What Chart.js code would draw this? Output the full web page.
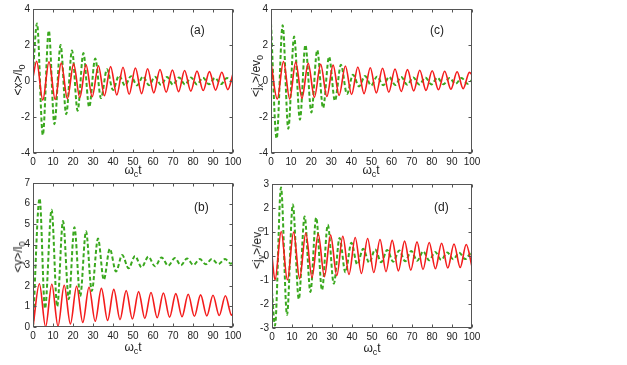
<!DOCTYPE html>
<html lang="en">
<head>
  <meta charset="UTF-8">
  <title>Document</title>
  <style>
    body { margin: 0; background: #fff; }
    .wrap { position: relative; width: 627px; height: 365px; overflow: hidden; font-family: "Liberation Sans", Arial, sans-serif; color: #222; }
    canvas { position: absolute; }
    .xt, .yt, .tag { position: absolute; white-space: nowrap; font-size: 12px; line-height: 12px; }
    .xt { transform: translateX(-50%); }
    .yt { transform: translate(-50%, -50%) rotate(-90deg); }
    .tag { font-size: 12px; }
    sub { font-size: 9px; vertical-align: -3px; line-height: 0; }
  </style>
</head>
<body>
  <div class="wrap">
    <canvas id="chartA" width="250" height="178" style="left:0px;top:0px"></canvas>
    <canvas id="chartC" width="250" height="178" style="left:238px;top:0px"></canvas>
    <canvas id="chartB" width="250" height="178" style="left:0px;top:174px"></canvas>
    <canvas id="chartD" width="250" height="178" style="left:239px;top:175px"></canvas>

    <div class="yt" style="left:18px;top:80px">&lt;x&gt;/l<sub>0</sub></div>
    <div class="yt" style="left:256px;top:76px">&lt;j<sub>x</sub>&gt;/ev<sub>0</sub></div>
    <div class="yt" style="left:18px;top:257px">&lt;y&gt;/l<sub>0</sub></div>
    <div class="yt" style="left:257px;top:248px">&lt;j<sub>y</sub>&gt;/ev<sub>0</sub></div>

    <div class="xt" style="left:133px;top:164px">ω<sub>c</sub>t</div>
    <div class="xt" style="left:371px;top:164px">ω<sub>c</sub>t</div>
    <div class="xt" style="left:133px;top:341px">ω<sub>c</sub>t</div>
    <div class="xt" style="left:372px;top:342px">ω<sub>c</sub>t</div>

    <div class="tag" style="left:190px;top:24px">(a)</div>
    <div class="tag" style="left:430px;top:24px">(c)</div>
    <div class="tag" style="left:194px;top:201px">(b)</div>
    <div class="tag" style="left:434px;top:201px">(d)</div>
  </div>

  <script src="https://cdn.jsdelivr.net/npm/chart.js"></script>
  <script>
    // values: times of the turning points and the values there

    // (a) <x>/l0
    const aRedT = [0, 1.8, 4.9, 8.0, 11.1, 14.1, 17.2, 20.3, 23.4, 26.5, 29.6, 32.7, 35.7, 38.8, 41.9, 45.0, 48.1, 51.2, 54.3, 57.3, 60.4, 63.5, 66.6, 69.7, 72.8, 75.8, 78.9, 82.0, 85.1, 88.2, 91.3, 94.4, 97.4, 100]
    const aRedY = [0.2, 1.1, -1.06, 1.07, -1.03, 1.0, -0.98, 0.95, -0.92, 0.9, -0.87, 0.85, -0.82, 0.8, -0.78, 0.76, -0.74, 0.72, -0.7, 0.68, -0.66, 0.64, -0.62, 0.61, -0.59, 0.58, -0.56, 0.55, -0.53, 0.52, -0.51, 0.49, -0.48, 0.4]
    const aGreenT = [0, 2.0, 4.9, 7.9, 10.7, 13.8, 16.6, 19.5, 22.3, 25.2, 28.1, 31.1, 34.0, 37.0, 40.0, 43.0, 46.0, 49.0, 52.0, 55.0, 58.0, 61.0, 64.0, 67.0, 70.0, 73.0, 76.0, 79.0, 82.0, 85.0, 88.0, 91.0, 94.0, 97.0, 100]
    const aGreenY = [0.5, 3.2, -3.0, 2.8, -2.4, 2.0, -1.85, 1.7, -1.65, 1.55, -1.45, 1.25, -0.95, 0.65, -0.5, 0.3, -0.25, 0.27, -0.24, 0.25, -0.23, 0.23, -0.22, 0.22, -0.21, 0.2, -0.2, 0.2, -0.19, 0.18, -0.18, 0.17, -0.17, 0.16, -0.05]

    // (c) <jx>/ev0
    const cRedT = [0, 3.1, 6.2, 9.3, 12.3, 15.4, 18.5, 21.6, 24.7, 27.8, 30.9, 33.9, 37.0, 40.1, 43.2, 46.3, 49.4, 52.4, 55.5, 58.6, 61.7, 64.8, 67.9, 71.0, 74.0, 77.1, 80.2, 83.3, 86.4, 89.5, 92.6, 95.6, 98.7, 100]
    const cRedY = [1.0, -1.0, 1.08, -1.0, 1.05, -0.96, 0.98, -0.9, 0.93, -0.86, 0.88, -0.8, 0.83, -0.75, 0.78, -0.7, 0.74, -0.66, 0.71, -0.62, 0.67, -0.58, 0.63, -0.55, 0.6, -0.52, 0.57, -0.49, 0.54, -0.46, 0.51, -0.43, 0.48, 0.35]
    const cGreenT = [0, 2.8, 5.8, 8.6, 11.5, 14.4, 17.1, 20.1, 23.0, 25.9, 28.9, 31.8, 34.8, 37.8, 40.8, 43.8, 46.8, 49.8, 52.8, 55.8, 58.8, 61.8, 64.8, 67.8, 70.8, 73.8, 76.8, 79.8, 82.8, 85.8, 88.8, 91.8, 94.8, 97.8, 100]
    const cGreenY = [3.2, -3.2, 3.1, -2.65, 2.47, -2.15, 2.0, -1.75, 1.72, -1.5, 1.35, -1.1, 0.9, -0.72, 0.35, -0.3, 0.28, -0.25, 0.25, -0.24, 0.23, -0.22, 0.22, -0.21, 0.2, -0.2, 0.19, -0.19, 0.18, -0.18, 0.17, -0.16, 0.16, -0.15, 0.05]

    // (b) <y>/l0
    const bRedT = [0, 3.2, 6.3, 9.4, 12.5, 15.6, 18.7, 21.8, 24.9, 28.0, 31.1, 34.2, 37.3, 40.4, 43.5, 46.6, 49.7, 52.8, 55.9, 59.0, 62.1, 65.2, 68.3, 71.4, 74.5, 77.6, 80.7, 83.8, 86.9, 90.0, 93.1, 96.2, 99.3, 100]
    const bRedY = [0, 2.1, 0.0, 2.08, 0.04, 2.03, 0.15, 1.98, 0.22, 1.93, 0.28, 1.88, 0.32, 1.83, 0.36, 1.77, 0.39, 1.72, 0.42, 1.68, 0.45, 1.65, 0.48, 1.62, 0.5, 1.59, 0.52, 1.56, 0.54, 1.54, 0.56, 1.52, 0.57, 0.65]
    const bGreenT = [0, 3.3, 6.0, 9.3, 12.1, 15.0, 17.9, 20.7, 23.6, 26.5, 29.4, 32.5, 35.4, 38.4, 41.5, 44.6, 47.8, 51.0, 54.3, 57.7, 61.0, 64.3, 67.6, 70.9, 74.0, 77.0, 80.2, 83.4, 86.4, 89.4, 92.7, 96.0, 99.0, 100]
    const bGreenY = [0, 6.25, 0.9, 5.7, 1.0, 5.15, 1.35, 4.85, 1.5, 4.65, 1.75, 4.3, 2.3, 3.8, 2.7, 3.5, 2.85, 3.45, 2.9, 3.42, 2.95, 3.38, 2.98, 3.35, 3.0, 3.33, 3.02, 3.3, 3.05, 3.3, 3.06, 3.3, 3.08, 3.15]

    // (d) <jy>/ev0
    const dRedT = [0, 1.5, 4.6, 7.7, 10.8, 13.8, 16.9, 20.0, 23.1, 26.2, 29.3, 32.4, 35.4, 38.5, 41.6, 44.7, 47.8, 50.9, 54.0, 57.0, 60.1, 63.2, 66.3, 69.4, 72.5, 75.5, 78.6, 81.7, 84.8, 87.9, 91.0, 94.1, 97.1, 100]
    const dRedY = [0, -1.0, 1.02, -1.0, 1.0, -0.95, 0.96, -0.9, 0.92, -0.86, 0.87, -0.82, 0.82, -0.77, 0.77, -0.73, 0.73, -0.69, 0.69, -0.65, 0.65, -0.62, 0.62, -0.59, 0.59, -0.56, 0.56, -0.53, 0.53, -0.5, 0.5, -0.48, 0.48, -0.45]
    const dGreenT = [0, 1.5, 4.5, 7.5, 10.4, 13.4, 16.3, 19.2, 22.1, 25.0, 27.9, 30.9, 33.8, 36.7, 39.7, 42.6, 45.6, 48.6, 51.6, 54.6, 57.6, 60.6, 63.6, 66.6, 69.6, 72.6, 75.6, 78.6, 81.6, 84.6, 87.6, 90.6, 93.6, 96.6, 99.6, 100]
    const dGreenY = [-1.5, -2.9, 2.85, -2.45, 2.15, -1.8, 1.65, -1.5, 1.6, -1.42, 1.3, -1.15, 0.75, -0.68, 0.55, -0.35, 0.3, -0.28, 0.27, -0.26, 0.25, -0.24, 0.23, -0.22, 0.21, -0.2, 0.19, -0.18, 0.17, -0.16, 0.15, -0.14, 0.14, -0.13, 0.12, 0.1]

    const redColor = '#f41c1c'
    const greenColor = '#3aa81e'

    // matlab style box with inward ticks
    const boxTicks = {
      id: 'boxTicks',
      afterDraw(chart) {
        const ctx = chart.ctx
        const a = chart.chartArea
        const sx = chart.scales.x
        const sy = chart.scales.y
        const l = Math.round(a.left) + 0.5, r = Math.round(a.right) - 0.5
        const t = Math.round(a.top) + 0.5, b = Math.round(a.bottom) - 0.5
        ctx.save()
        ctx.strokeStyle = '#555'
        ctx.lineWidth = 1
        ctx.strokeRect(l, t, r - l, b - t)
        ctx.beginPath()
        sx.ticks.forEach(tk => {
          const p = Math.round(sx.getPixelForValue(tk.value)) + 0.5
          ctx.moveTo(p, b); ctx.lineTo(p, b - 3)
          ctx.moveTo(p, t); ctx.lineTo(p, t + 3)
        })
        sy.ticks.forEach(tk => {
          const p = Math.round(sy.getPixelForValue(tk.value)) + 0.5
          ctx.moveTo(l, p); ctx.lineTo(l + 3, p)
          ctx.moveTo(r, p); ctx.lineTo(r - 3, p)
        })
        ctx.stroke()
        ctx.restore()
      }
    }

    function toPoints(xs, ys) {
      return xs.map((x, i) => ({ x: x, y: ys[i] }))
    }

    function makePanel(id, redT, redY, greenT, greenY, yMin, yMax, yStep, rightPad) {
      const config = {
        type: 'line',
        data: {
          datasets: [{
            data: toPoints(redT, redY),
            borderColor: redColor,
            borderWidth: 1.6,
            pointRadius: 0,
            cubicInterpolationMode: 'monotone',
            fill: false
          },
          {
            data: toPoints(greenT, greenY),
            borderColor: greenColor,
            borderWidth: 2,
            borderDash: [4, 2.5],
            pointRadius: 0,
            cubicInterpolationMode: 'monotone',
            fill: false
          }]
        },
        options: {
          responsive: false,
          animation: false,
          devicePixelRatio: 1,
          layout: { padding: { left: 0, top: 7, right: rightPad, bottom: 0 } },
          plugins: { legend: { display: false }, tooltip: { enabled: false } },
          scales: {
            x: {
              type: 'linear',
              min: 0,
              max: 100,
              afterFit: s => { s.height = 25 },
              grid: { display: false, drawTicks: false },
              border: { display: false },
              ticks: { stepSize: 10, padding: 3, maxRotation: 0, color: '#222', font: { family: 'Liberation Sans', size: 10 } }
            },
            y: {
              min: yMin,
              max: yMax,
              afterFit: s => { s.width = 33 },
              grid: { display: false, drawTicks: false },
              border: { display: false },
              ticks: { stepSize: yStep, padding: 3, color: '#222', font: { family: 'Liberation Sans', size: 10 } }
            }
          }
        },
        plugins: [boxTicks]
      }
      return new Chart(document.getElementById(id), config)
    }

    makePanel('chartA', aRedT, aRedY, aGreenT, aGreenY, -4, 4, 2, 17)
    makePanel('chartC', cRedT, cRedY, cGreenT, cGreenY, -4, 4, 2, 16)
    makePanel('chartB', bRedT, bRedY, bGreenT, bGreenY, 0, 7, 1, 17)
    makePanel('chartD', dRedT, dRedY, dGreenT, dGreenY, -3, 3, 1, 17)
  </script>
</body>
</html>
